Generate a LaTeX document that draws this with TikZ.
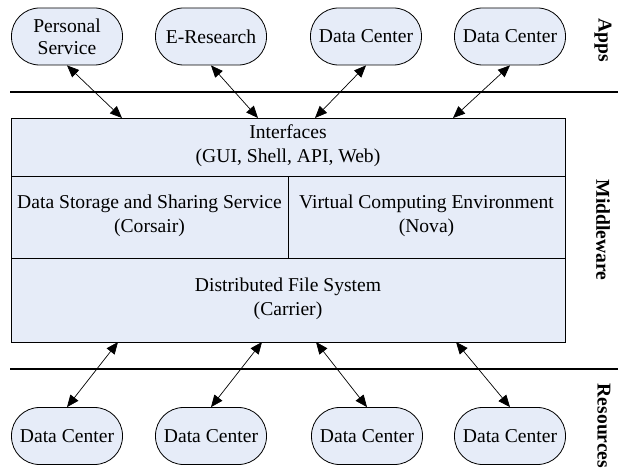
\documentclass[tikz,border=0pt]{standalone}
\usepackage{fontspec}
\setmainfont{Liberation Serif}
\usetikzlibrary{arrows.meta}
\definecolor{boxfill}{RGB}{230,236,248}
\tikzset{
  term/.style={draw=black, line width=0.8pt, fill=boxfill, rounded corners=28pt,
    minimum width=111pt, minimum height=57pt, inner sep=0pt, align=center,
    font=\fontsize{19.6}{22}\selectfont},
  layer/.style={draw=black, line width=0.8pt, fill=boxfill},
  ltext/.style={align=center, font=\fontsize{19.6}{24}\selectfont},
  sidelabel/.style={rotate=-90, font=\fontsize{19.6}{22}\selectfont\bfseries},
  conn/.style={line width=0.7pt, {Triangle[length=12pt,width=10pt]}-{Triangle[length=12pt,width=10pt]}},
  sep/.style={line width=2.6pt},
}
\begin{document}
\begin{tikzpicture}[x=1pt,y=-1pt]
\useasboundingbox (0,0) rectangle (618,468);
% separator lines
\coordinate (tl) at (10,92); \coordinate (tr) at (618,92);
\coordinate (bl) at (10,369); \coordinate (br) at (618,369);
\draw[sep] (tl) -- (tr);
\draw[sep] (bl) -- (br);
% middleware layers
\draw[layer] (11,118) rectangle (565,176);
\draw[layer] (11,176) rectangle (288,258);
\draw[layer] (288,176) rectangle (565,258);
\draw[layer] (11,258) rectangle (565,342);
\node[ltext] (iface) at (288,146) {Interfaces\\(GUI, Shell, API, Web)};
\node[ltext] (dsss) at (149.5,216) {Data Storage and Sharing Service\\(Corsair)};
\node[ltext] (vce) at (426.5,216) {Virtual Computing Environment\\(Nova)};
\node[ltext] (dfs) at (288,299) {Distributed File System\\(Carrier)};
% anchor points on the box
\coordinate (t1) at (122,118); \coordinate (t2) at (258,118);
\coordinate (t3) at (315,118); \coordinate (t4) at (453,118);
\coordinate (b1) at (118,342); \coordinate (b2) at (262,342);
\coordinate (b3) at (316,342); \coordinate (b4) at (456,342);
% apps
\node[term] (a1) at (67,36.5) {Personal\\Service};
\node[term] (a2) at (211,36.5) {E-Research};
\node[term] (a3) at (366,36.5) {Data Center};
\node[term] (a4) at (510,36.5) {Data Center};
% resources
\node[term] (r1) at (67,436) {Data Center};
\node[term] (r2) at (211,436) {Data Center};
\node[term] (r3) at (367,436) {Data Center};
\node[term] (r4) at (510,436) {Data Center};
% connectors
\draw[conn] (a1.south) -- (t1);
\draw[conn] (a2.south) -- (t2);
\draw[conn] (a3.south) -- (t3);
\draw[conn] (a4.south) -- (t4);
\draw[conn] (b1) -- (r1.north);
\draw[conn] (b2) -- (r2.north);
\draw[conn] (b3) -- (r3.north);
\draw[conn] (b4) -- (r4.north);
% side labels
\node[sidelabel] (lapps) at (603,40) {Apps};
\node[sidelabel] (lmid) at (603,230) {Middleware};
\node[sidelabel] (lres) at (604,426) {Resources};
\end{tikzpicture}
\end{document}
